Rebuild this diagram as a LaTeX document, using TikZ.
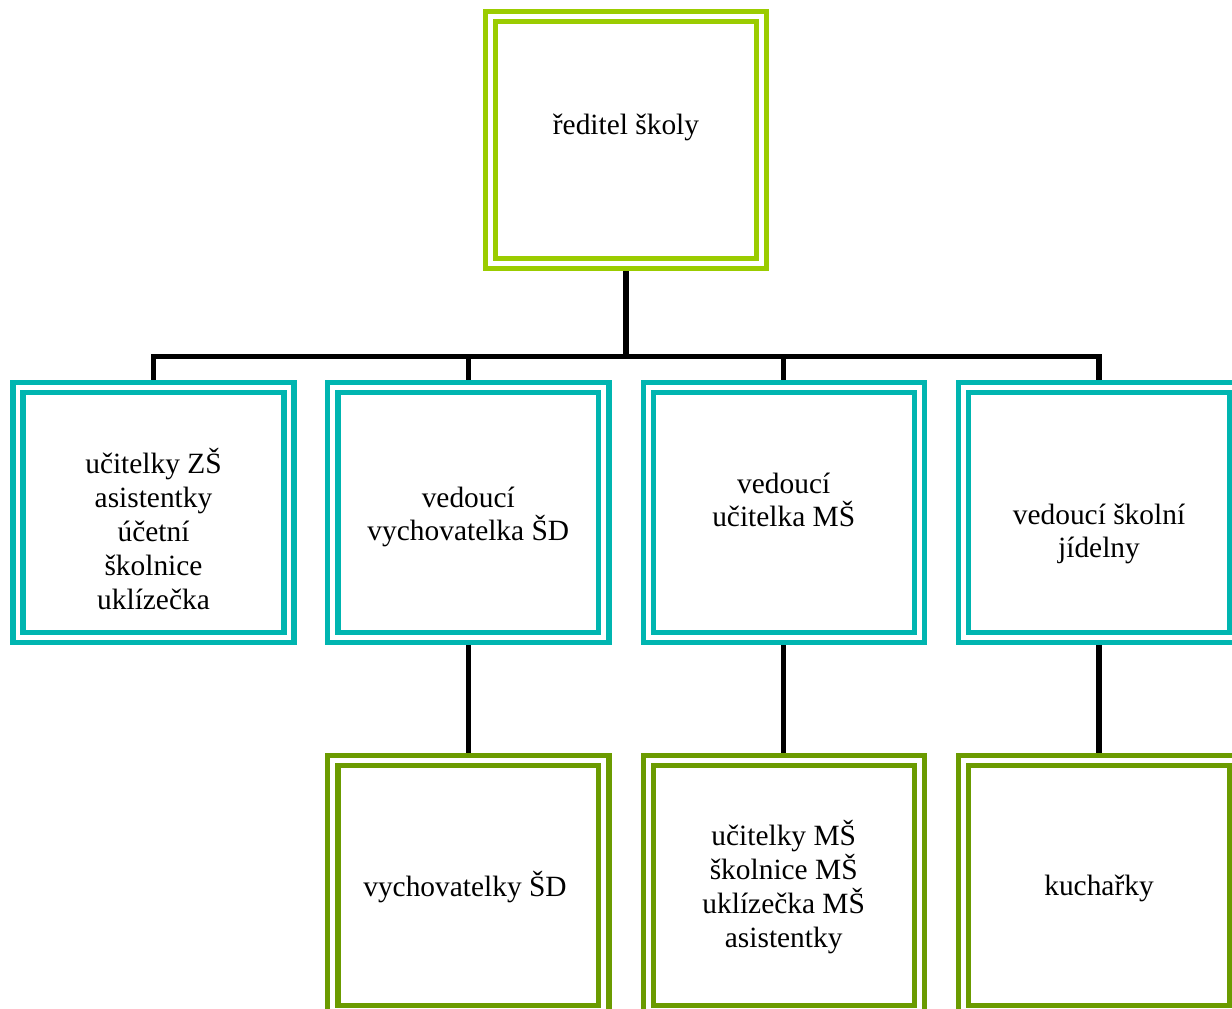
\documentclass[tikz,border=0pt]{standalone}
\usepackage{fontspec}
\setmainfont{Liberation Serif}
\definecolor{topgreen}{RGB}{155,204,0}
\definecolor{tealc}{RGB}{0,181,176}
\definecolor{darkgreen}{RGB}{107,155,0}
\begin{document}
\begin{tikzpicture}[x=1pt,y=-1pt,
  box/.style={draw=#1, line width=5.3pt, double=white, double distance=4.8pt,
    minimum width=271pt, minimum height=250pt, inner sep=0pt, outer sep=7.7pt, rectangle},
  label/.style={align=center, inner sep=0pt, font=\fontsize{29.4}{33.8}\selectfont},
  conn/.style={draw=black, line width=5.5pt}]
\useasboundingbox (0,0) rectangle (1232,1009);
\clip (0,0) rectangle (1232,1009);
\fill[white] (0,0) rectangle (1232,1009);
% boxes
\node[box=topgreen, minimum height=246.6pt, minimum width=270.6pt] (top) at (626,140) {};
\node[box=tealc] (b1) at (153.5,512.5) {};
\node[box=tealc] (b2) at (468.3,512.5) {};
\node[box=tealc] (b3) at (783.7,512.5) {};
\node[box=tealc] (b4) at (1099,512.5) {};
\node[box=darkgreen] (g2) at (468.3,885.2) {};
\node[box=darkgreen] (g3) at (783.7,885.2) {};
\node[box=darkgreen] (g4) at (1099,885.2) {};
% texts
\node[label] (t0) at (626,127) {ředitel školy};
\node[label] (t1) at (153.5,529) {učitelky ZŠ\\asistentky\\účetní\\školnice\\uklízečka};
\node[label] (t2) at (468.3,517) {vedoucí\\vychovatelka ŠD};
\node[label] (t3) at (783.7,500) {vedoucí\\učitelka MŠ};
\node[label] (t4) at (1099,534) {vedoucí školní\\jídelny};
\node[label] (t5) at (465,887) {vychovatelky ŠD};
\node[label] (t6) at (783.7,887) {učitelky MŠ\\školnice MŠ\\uklízečka MŠ\\asistentky};
\node[label] (t7) at (1099,888) {kuchařky};
% connectors
\coordinate (bar) at (626,356.5);
\draw[conn] (top.south) -- (bar);
\draw[conn] (b1.north) |- (bar) -| (b4.north);
\draw[conn] (b2.north) -- (b2.north |- bar);
\draw[conn] (b3.north) -- (b3.north |- bar);
\draw[conn] (b2.south) -- (g2.north);
\draw[conn] (b3.south) -- (g3.north);
\draw[conn] (b4.south) -- (g4.north);
\end{tikzpicture}
\end{document}
